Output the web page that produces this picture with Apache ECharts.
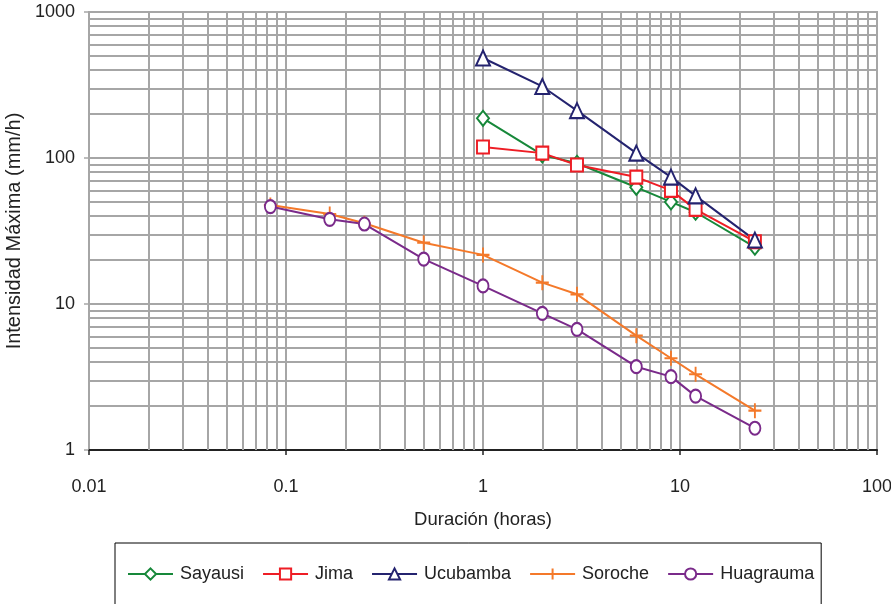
<!DOCTYPE html>
<html><head><meta charset="utf-8">
<script src="https://cdn.jsdelivr.net/npm/echarts@6/dist/echarts.min.js"></script>
<style>html,body{margin:0;padding:0;background:#fff}#c{width:891px;height:604px}</style>
</head><body><div id="c"></div>
<script>
const durShort = [1, 2, 3, 6, 9, 12, 24];
const durLong = [0.0833, 0.1667, 0.25, 0.5, 1, 2, 3, 6, 9, 12, 24];
const sayausi = [187, 105, 92, 63, 50, 42.5, 24.5];
const jima = [119, 108, 89.5, 74, 60, 44.5, 26.7];
const ucubamba = [484, 309, 211, 108, 74, 55, 27.4];
const soroche = [47.6, 41.3, 35.7, 26.3, 21.7, 14.0, 11.65, 6.07, 4.25, 3.30, 1.86];
const huagrauma = [46.5, 38.0, 35.3, 20.3, 13.3, 8.63, 6.71, 3.72, 3.18, 2.34, 1.41];
const xTicks = [0.01, 0.1, 1, 10, 100];
const yTicks = [1, 10, 100, 1000];

const FONT = 'Liberation Sans, Arial, sans-serif';
const GRID = '#a6a6a6';

function minors(lo, hi) {
  const out = [];
  for (let d = lo; d < hi; d *= 10) for (let k = 2; k <= 9; k++) out.push(+(d * k).toPrecision(6));
  return out;
}
const xMinor = minors(xTicks[0], xTicks[xTicks.length - 1]);
const yMinor = minors(yTicks[0], yTicks[yTicks.length - 1]);

const zip = (xs, ys) => xs.map((x, i) => [x, ys[i]]);
const fmt = v => String(Number((+v).toPrecision(6)));

const chart = echarts.init(document.getElementById('c'), null, {renderer: 'canvas'});
const mk = (name, color, xs, ys, symbol, size, extra) => Object.assign({
  name, type: 'line', data: zip(xs, ys), symbol, symbolSize: size,
  lineStyle: {color, width: 2}, itemStyle: {color, borderColor: color, borderWidth: 1.8},
  z: 5, animation: false
}, extra || {});

chart.setOption({
  animation: false,
  textStyle: {fontFamily: FONT},
  grid: {left: 89, right: 14, top: 12, bottom: 154, show: true, borderColor: GRID, borderWidth: 2,
         containLabel: false, outerBoundsMode: 'none'},
  legend: {
    left: 115, top: 543, orient: 'horizontal',
    borderColor: '#000', borderWidth: 1,
    padding: [22, 7, 24, 12],
    itemWidth: 45, itemHeight: 14, itemGap: 18,
    textStyle: {fontFamily: FONT, fontSize: 18, color: '#222', padding: [0, 0, 0, 2]},
    data: ['Sayausi', 'Jima', 'Ucubamba', 'Soroche', 'Huagrauma']
  },
  xAxis: {
    type: 'log', logBase: 10, min: xTicks[0], max: xTicks[xTicks.length - 1], interval: 1,
    name: 'Duración (horas)', nameLocation: 'middle', nameGap: 60,
    nameTextStyle: {fontFamily: FONT, fontSize: 18.5, color: '#222'},
    axisLine: {show: true, onZero: false, lineStyle: {color: '#222', width: 2}},
    axisTick: {show: true, length: 5, lineStyle: {color: '#222', width: 1.5}},
    axisLabel: {fontFamily: FONT, fontSize: 18, color: '#222', margin: 28, formatter: fmt},
    splitLine: {show: true, lineStyle: {color: GRID, width: 2}}
  },
  yAxis: {
    type: 'log', logBase: 10, min: yTicks[0], max: yTicks[yTicks.length - 1], interval: 1,
    name: 'Intensidad Máxima (mm/h)', nameLocation: 'middle', nameGap: 63, nameRotate: 90,
    nameTextStyle: {fontFamily: FONT, fontSize: 20, color: '#222'},
    axisLine: {show: true, onZero: false, lineStyle: {color: GRID, width: 2}},
    axisTick: {show: true, length: 5, lineStyle: {color: GRID, width: 1.5}},
    axisLabel: {fontFamily: FONT, fontSize: 18, color: '#222', margin: 14, formatter: fmt},
    splitLine: {show: true, lineStyle: {color: GRID, width: 2}}
  },
  series: [
    {
      name: 'grid-minor', type: 'line', data: [], z: 1, silent: true, animation: false,
      markLine: {
        silent: true, symbol: 'none', animation: false,
        label: {show: false},
        lineStyle: {color: GRID, width: 2, type: 'solid'},
        data: xMinor.map(v => ({xAxis: v})).concat(yMinor.map(v => ({yAxis: v})))
      }
    },
    mk('Sayausi', '#17883a', durShort, sayausi, 'emptyDiamond', [12, 15]),
    mk('Jima', '#ee1d25', durShort, jima, 'emptyRect', [12, 13]),
    mk('Ucubamba', '#24236f', durShort, ucubamba, 'emptyTriangle', [14, 15]),
    mk('Soroche', '#f4792a', durLong, soroche, 'path://M6,0L6,14M0,7L12,7', [13, 15],
       {itemStyle: {color: 'rgba(0,0,0,0)', borderColor: '#f4792a', borderWidth: 2}}),
    mk('Huagrauma', '#7a2a8a', durLong, huagrauma, 'emptyCircle', [11, 13])
  ]
});
</script></body></html>
